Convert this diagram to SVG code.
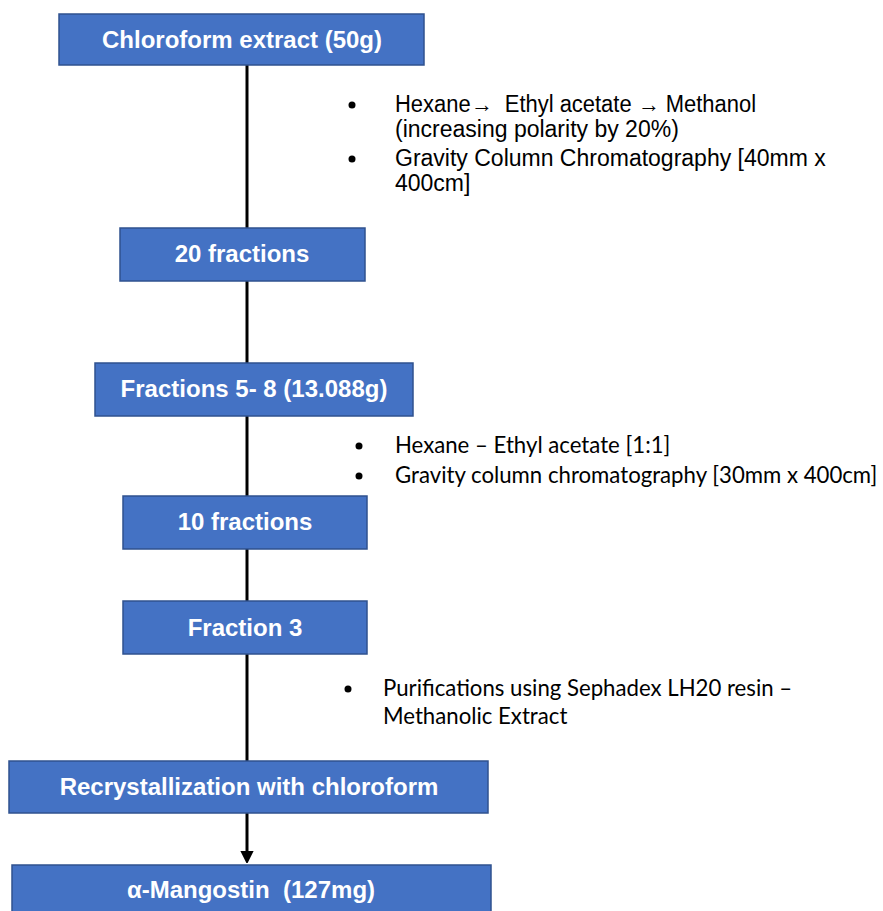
<svg xmlns="http://www.w3.org/2000/svg" width="883" height="911" viewBox="0 0 883 911">
<style>
.box{fill:#4472C4;stroke:#2F528F;stroke-width:1.5}
.lbl{font-family:"Liberation Sans",Arial,sans-serif;font-weight:bold;font-size:24px;fill:#fff;text-anchor:middle;white-space:pre}
.a{font-family:"Liberation Sans",Arial,sans-serif;font-size:23px;fill:#000}
.c{font-family:Lato,"Liberation Sans",sans-serif;font-size:22.2px;fill:#000}
.ln{stroke:#000;stroke-width:3;fill:none}
</style>
<defs>
<marker id="ah" markerWidth="4" markerHeight="4.4" refX="2" refY="2.2" orient="auto" markerUnits="strokeWidth">
<path d="M0,0 L4.4,2.2 L0,4.4 Z" fill="#000"/>
</marker>
</defs>
<rect width="883" height="911" fill="#fff"/>
<g id="connectors">
<line class="ln" x1="247" y1="65" x2="247" y2="228"/>
<line class="ln" x1="247" y1="281" x2="247" y2="363"/>
<line class="ln" x1="247" y1="416" x2="247" y2="496"/>
<line class="ln" x1="247" y1="549" x2="247" y2="601"/>
<line class="ln" x1="247" y1="654" x2="247" y2="761"/>
<line class="ln" x1="247" y1="813" x2="247" y2="857" marker-end="url(#ah)"/>
</g>
<g id="n1"><rect class="box" x="59" y="14" width="365" height="51"/><text class="lbl" x="242" y="48">Chloroform extract (50g)</text></g>
<g id="n2"><rect class="box" x="120" y="228" width="245" height="53"/><text class="lbl" x="242" y="262">20 fractions</text></g>
<g id="n3"><rect class="box" x="95" y="363" width="318" height="53"/><text class="lbl" x="254" y="397">Fractions 5- 8 (13.088g)</text></g>
<g id="n4"><rect class="box" x="123" y="496" width="244" height="53"/><text class="lbl" x="245" y="530">10 fractions</text></g>
<g id="n5"><rect class="box" x="123" y="601" width="244" height="53"/><text class="lbl" x="245" y="636">Fraction 3</text></g>
<g id="n6"><rect class="box" x="9" y="761" width="479" height="52"/><text class="lbl" x="249" y="795">Recrystallization with chloroform</text></g>
<g id="n7"><rect class="box" x="12" y="865" width="479" height="50"/><text class="lbl" x="251" y="898" xml:space="preserve">α-Mangostin  (127mg)</text></g>
<g id="notes1">
<circle cx="352" cy="105" r="3.5"/>
<text class="a" x="395" y="112" xml:space="preserve" textLength="361" lengthAdjust="spacingAndGlyphs">Hexane→  Ethyl acetate → Methanol</text>
<text class="a" x="395" y="137">(increasing polarity by 20%)</text>
<circle cx="352" cy="159" r="3.5"/>
<text class="a" x="395" y="166">Gravity Column Chromatography [40mm x</text>
<text class="a" x="395" y="191">400cm]</text>
</g>
<g id="notes2">
<circle cx="359" cy="446" r="3.5"/>
<text class="c" x="395" y="453">Hexane – Ethyl acetate [1:1]</text>
<circle cx="359" cy="476" r="3.5"/>
<text class="c" x="395" y="483">Gravity column chromatography [30mm x 400cm]</text>
</g>
<g id="notes3">
<circle cx="348" cy="689" r="3.5"/>
<text class="c" x="383" y="696">Purifications using Sephadex LH20 resin –</text>
<text class="c" x="383" y="724">Methanolic Extract</text>
</g>
</svg>
